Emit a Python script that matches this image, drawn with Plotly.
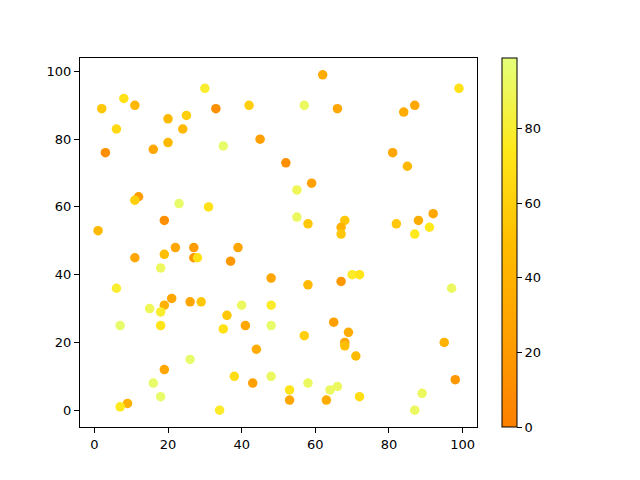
import plotly.graph_objects as go

x_vals = [30, 8, 2, 11, 33, 20, 25, 6, 24, 20, 16, 3, 12, 11, 23, 31, 19, 1, 22, 27,
          62, 42, 57, 66, 45, 35, 52, 59, 55, 55, 58, 39, 99, 87, 84, 81, 85, 68, 67, 67,
          82, 88, 92, 91, 87, 11, 19, 27, 28, 18, 6, 21, 19, 26, 29, 15, 18, 7, 18, 26,
          19, 16, 18, 9, 7, 37, 48, 58, 67, 40, 48, 36, 35, 41, 48, 65, 57, 44, 38, 43,
          48, 53, 53, 58, 63, 64, 66, 34, 70, 72, 97, 69, 68, 68, 71, 95, 98, 72, 89, 87]
y_vals = [95, 92, 89, 90, 89, 86, 87, 83, 83, 79, 77, 76, 63, 62, 61, 60, 56, 53, 48, 48,
          99, 90, 90, 89, 80, 78, 73, 67, 65, 57, 55, 48, 95, 90, 88, 76, 72, 56, 54, 52,
          55, 56, 58, 54, 52, 45, 46, 45, 45, 42, 36, 33, 31, 32, 32, 30, 29, 25, 25, 15,
          12, 8, 4, 2, 1, 44, 39, 37, 38, 31, 31, 28, 24, 25, 25, 26, 22, 18, 10, 8,
          10, 6, 3, 8, 3, 6, 7, 0, 40, 40, 36, 23, 20, 19, 16, 20, 9, 4, 5, 0]
c_vals = [80, 70, 55, 45, 12, 45, 60, 65, 45, 45, 30, 12, 22, 60, 95, 70, 12, 45, 30, 22,
          35, 60, 92, 30, 25, 95, 12, 25, 90, 92, 55, 30, 70, 30, 35, 30, 45, 55, 40, 55,
          55, 35, 30, 75, 75, 30, 50, 18, 70, 92, 80, 30, 40, 30, 55, 90, 80, 95, 72, 95,
          30, 95, 95, 40, 75, 18, 30, 45, 18, 92, 78, 55, 70, 30, 95, 25, 60, 35, 68, 25,
          92, 72, 30, 92, 35, 92, 92, 78, 78, 72, 92, 35, 30, 50, 48, 40, 18, 68, 92, 92]

wistia_r = [[0.0, "#fc7f00"], [0.25, "#ffa000"], [0.5, "#ffbd00"],
            [0.75, "#ffe81a"], [1.0, "#e4ff7a"]]

fig = go.Figure(go.Scatter(
    x=x_vals, y=y_vals, mode="markers",
    marker=dict(
        size=9.5, color=c_vals, colorscale=wistia_r, cmin=0, cmax=99,
        line=dict(width=0),
        colorbar=dict(
            x=1.063, xanchor="left", xpad=0, ypad=0, y=0.5, yanchor="middle",
            len=1, lenmode="fraction", thickness=15,
            outlinewidth=1, outlinecolor="black",
            tickvals=[0, 20, 40, 60, 80], ticks="outside", ticklen=5,
            tickcolor="black", tickfont=dict(family="DejaVu Sans", size=13, color="black"),
        ),
    ),
    showlegend=False,
))

axis_common = dict(
    showgrid=False, zeroline=False, showline=True, linecolor="black", linewidth=1,
    mirror=True, ticks="outside", ticklen=5, tickcolor="black",
    tickfont=dict(family="DejaVu Sans", size=13, color="black"),
)
fig.update_xaxes(range=[-3.9, 103.9], tickvals=[0, 20, 40, 60, 80, 100], **axis_common)
fig.update_yaxes(range=[-4.95, 103.95], tickvals=[0, 20, 40, 60, 80, 100], **axis_common)

fig.update_layout(
    width=640, height=480,
    margin=dict(l=80, r=163, t=58, b=53),
    paper_bgcolor="white", plot_bgcolor="white",
)

fig.write_html("out.html", config={"displayModeBar": False},
               post_script="document.body.style.margin='0px';")
